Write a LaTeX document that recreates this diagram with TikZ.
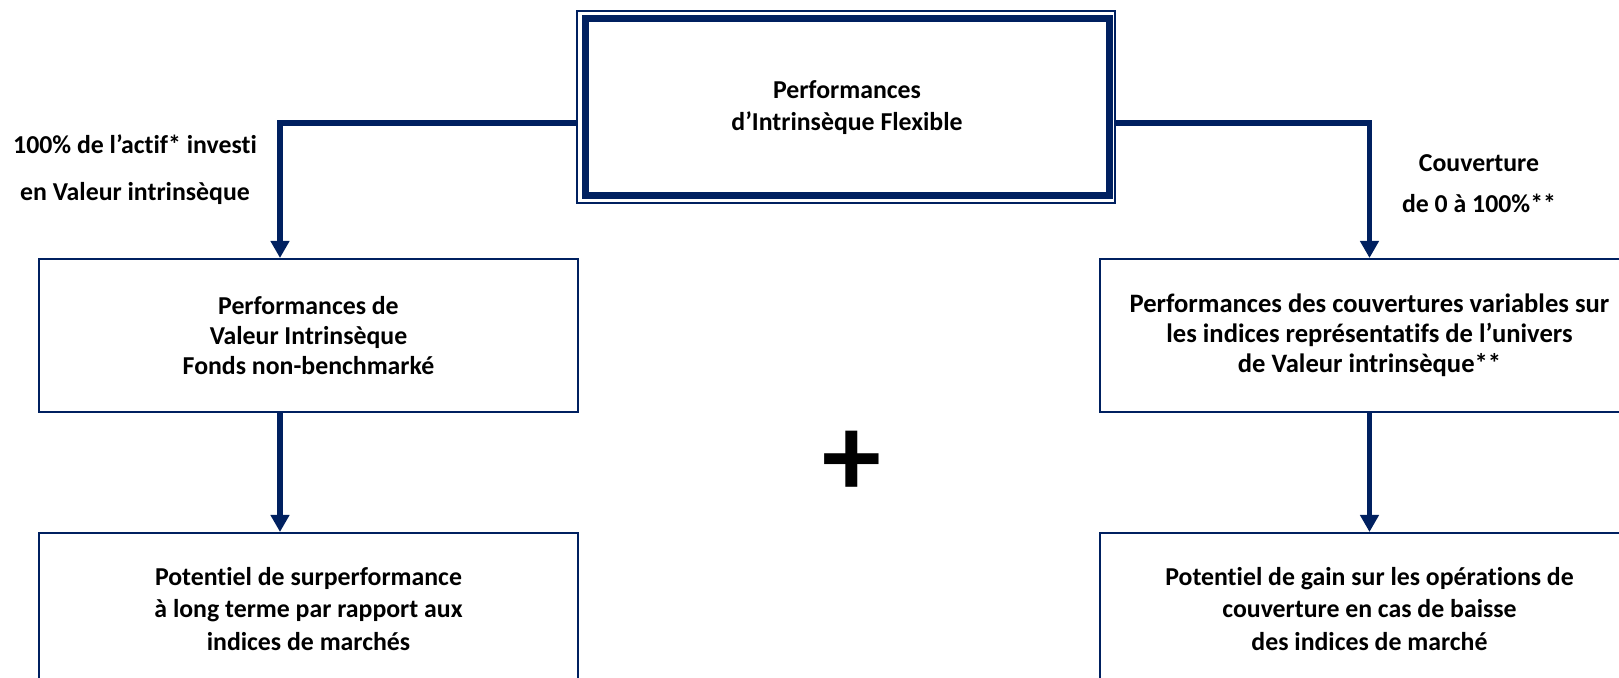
\documentclass[tikz,border=0pt]{standalone}
\usepackage{fontspec}
\setmainfont{Carlito}[Ligatures={NoCommon,NoContextual},RawFeature=-calt]
\usetikzlibrary{arrows.meta}
\definecolor{navy}{RGB}{0,32,96}
\begin{document}
\begin{tikzpicture}[x=0.5pt,y=-0.5pt,
  txt/.style={font=\bfseries\fontsize{12.9}{16}\selectfont, align=center, text=black},
  box/.style={draw=navy, line width=1pt, minimum width=269.5pt, minimum height=76.5pt, inner sep=0pt, txt},
  conn/.style={draw=navy, line width=2.7pt},
  arr/.style={conn, -{Triangle[width=9pt,length=8.5pt]}}]
\useasboundingbox (0,0) rectangle (1619,678);
\begin{scope}
\clip (0,0) rectangle (1619,678);
\node[draw=navy, line width=0.75pt, minimum width=269pt, minimum height=96pt, inner sep=0pt] (topouter) at (846,107) {};
\node[draw=navy, line width=3.5pt, minimum width=262pt, minimum height=88.5pt, inner sep=0pt, txt] (top) at (847,107.5) {Performances\\d’Intrinsèque Flexible};
\node[box] (ul) at (308.5,335.5) {Performances de\\[-1pt]Valeur Intrinsèque\\[-1pt]Fonds non-benchmarké};
\node[box, font=\bfseries\fontsize{13.3}{16}\selectfont] (ur) at (1369.5,335.5) {Performances des couvertures variables sur\\[-1pt]les indices représentatifs de l’univers\\[-1pt]de Valeur intrinsèque**};
\node[box, minimum height=76pt] (ll) at (308.5,609) {Potentiel de surperformance\\[0.3pt]à long terme par rapport aux\\[0.3pt]indices de marchés};
\node[box, minimum height=76pt] (lr) at (1369.5,609) {Potentiel de gain sur les opérations de\\[0.3pt]couverture en cas de baisse\\[0.3pt]des indices de marché};
\node[txt] (lab1) at (135,170) {100\% de l’actif* investi\\[7.5pt]en Valeur intrinsèque};
\node[txt] (lab2) at (1479,183.5) {Couverture\\[4.5pt]de 0 à 100\%**};
\node[font=\bfseries\fontsize{59}{60}\selectfont, inner sep=0pt] (plus) at (852,464) {+};
\draw[arr] ([yshift=-8pt]topouter.west) -| ([xshift=-14.25pt]ul.north);
\draw[arr] ([yshift=-8pt]topouter.east) -| (ur.north);
\draw[arr] ([xshift=-14.25pt]ul.south) -- ([xshift=-14.25pt]ll.north);
\draw[arr] (ur.south) -- (lr.north);
\end{scope}
\end{tikzpicture}
\end{document}
